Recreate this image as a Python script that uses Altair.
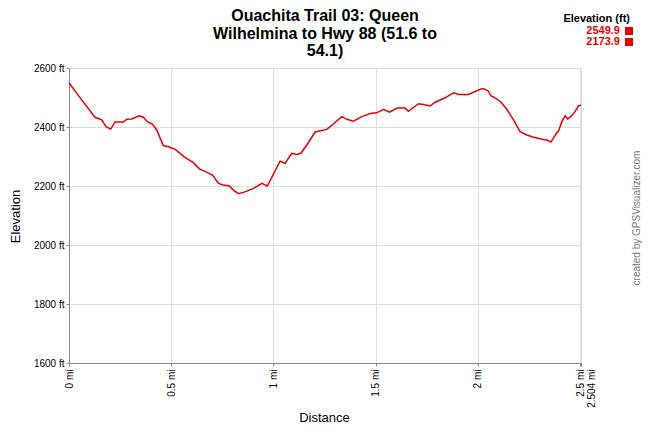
import altair as alt
import pandas as pd

# Data
distance_mi = [0, 0.038, 0.094, 0.127, 0.16, 0.181, 0.204, 0.225, 0.266, 0.282, 0.307, 0.342, 0.364, 0.383,
               0.409, 0.429, 0.461, 0.486, 0.519, 0.567, 0.608, 0.637, 0.673, 0.703, 0.731, 0.755, 0.784,
               0.804, 0.828, 0.861, 0.902, 0.943, 0.970, 1.032, 1.057, 1.089, 1.114, 1.134, 1.163, 1.204,
               1.261, 1.293, 1.334, 1.359, 1.391, 1.432, 1.473, 1.505, 1.538, 1.567, 1.606, 1.644, 1.660,
               1.709, 1.733, 1.766, 1.791, 1.840, 1.880, 1.905, 1.954, 1.978, 2.019, 2.030, 2.051, 2.063,
               2.095, 2.112, 2.141, 2.174, 2.206, 2.239, 2.272, 2.320, 2.337, 2.357, 2.386, 2.394, 2.410,
               2.427, 2.438, 2.454, 2.475, 2.492, 2.504]
elevation_ft = [2549.9, 2514, 2463, 2433, 2424, 2401, 2393, 2417, 2417, 2426, 2427, 2438, 2433, 2418,
                2409, 2390, 2337, 2333, 2324, 2297, 2279, 2258, 2247, 2236, 2209, 2203, 2200,
                2186, 2173.9, 2180, 2192, 2209, 2200, 2284, 2277, 2311, 2307, 2311, 2339, 2383,
                2392, 2410, 2435, 2426, 2420, 2435, 2446, 2448, 2460, 2450, 2464, 2464, 2453,
                2479, 2476, 2471, 2484, 2499, 2516, 2510, 2510, 2518, 2530, 2529, 2522, 2506,
                2494, 2485, 2460, 2424, 2384, 2373, 2365, 2358, 2356, 2349, 2381, 2386, 2418,
                2438, 2427, 2435, 2452, 2472, 2474]

x_ticks = [0, 0.5, 1, 1.5, 2, 2.5, 2.504]
y_ticks = [1600, 1800, 2000, 2200, 2400, 2600]
title_lines = "Ouachita Trail 03: Queen\nWilhelmina to Hwy 88 (51.6 to\n54.1)"
legend_title = "Elevation (ft)"
legend_max = "2549.9"
legend_min = "2173.9"
credit = "created by GPSVisualizer.com"

FONT = "Liberation Sans"
RED = "#e80000"

df = pd.DataFrame({"d": distance_mi, "e": elevation_ft})
one = pd.DataFrame({"k": [0]})

line = alt.Chart(df).mark_line(color=RED, strokeWidth=1.5).encode(
    x=alt.X("d:Q", title="Distance",
            scale=alt.Scale(domain=[0, 2.504], nice=False, zero=False),
            axis=alt.Axis(values=x_ticks, labelExpr="datum.value + ' mi'",
                          labelAngle=270, labelAlign="right", labelBaseline="middle",
                          labelOverlap=False, labelFlush=False,
                          labelOffset={"condition": {"test": "datum.value > 2.502", "value": 10},
                                       "value": 0},
                          tickSize=3, labelPadding=3, titleX=255, titleY=54,
                          titleFontWeight="normal", titleFontSize=13,
                          titleBaseline="middle", titleAlign="center")),
    y=alt.Y("e:Q", title="Elevation",
            scale=alt.Scale(domain=[1600, 2600], nice=False, zero=False),
            axis=alt.Axis(values=y_ticks, labelExpr="datum.value + ' ft'",
                          tickSize=3, labelPadding=2, labelFlush=False,
                          titleX=-54, titleY=148, titleAngle=270,
                          titleFontWeight="normal", titleFontSize=13,
                          titleBaseline="middle", titleAlign="center")),
)

title = alt.Chart(one).mark_text(font=FONT, fontSize=16, fontWeight="bold", lineBreak="\n",
                                 lineHeight=17.5, align="center", baseline="top", color="#000").encode(
    x=alt.value(256), y=alt.value(-60), text=alt.value(title_lines))

leg_title = alt.Chart(one).mark_text(font=FONT, fontSize=11, fontWeight="bold", align="right",
                                     baseline="middle", color="#000").encode(
    x=alt.value(561), y=alt.value(-49), text=alt.value(legend_title))

leg_t1 = alt.Chart(one).mark_text(font=FONT, fontSize=11, fontWeight="bold", align="right",
                                  baseline="middle", color=RED).encode(
    x=alt.value(551), y=alt.value(-37), text=alt.value(legend_max))
leg_t2 = alt.Chart(one).mark_text(font=FONT, fontSize=11, fontWeight="bold", align="right",
                                  baseline="middle", color=RED).encode(
    x=alt.value(551), y=alt.value(-26), text=alt.value(legend_min))
leg_s1 = alt.Chart(one).mark_square(color=RED, size=64, opacity=1, filled=True).encode(
    x=alt.value(560), y=alt.value(-37))
leg_s2 = alt.Chart(one).mark_square(color=RED, size=64, opacity=1, filled=True).encode(
    x=alt.value(560), y=alt.value(-26))

credit_t = alt.Chart(one).mark_text(font=FONT, fontSize=10, angle=270, align="center",
                                    baseline="middle", color="#777777").encode(
    x=alt.value(568), y=alt.value(150), text=alt.value(credit))

chart = alt.layer(line, title, leg_title, leg_t1, leg_t2, leg_s1, leg_s2, credit_t).properties(
    width=512, height=295, autosize="none",
    padding={"left": 61, "top": 60, "right": 61, "bottom": 62},
).configure_view(stroke="#cccccc").configure_axis(
    labelFont=FONT, labelFontSize=11, labelColor="#333333",
    titleFont=FONT, titleFontSize=13, titleFontWeight="normal", titleColor="#333333",
    gridColor="#d9d9d9", domainColor="#cccccc", tickColor="#aaaaaa",
).configure(background="white")

chart.save("out.html", embed_options={"renderer": "svg", "actions": False})
